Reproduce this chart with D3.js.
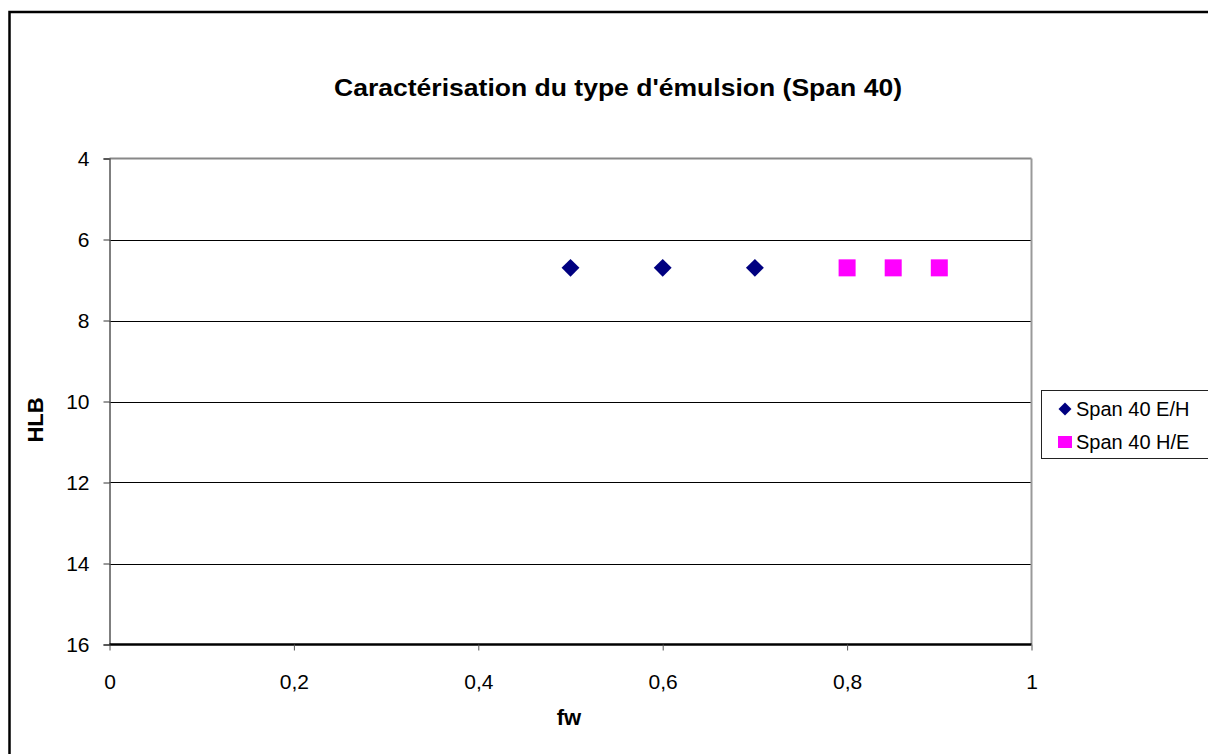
<!DOCTYPE html>
<html><head><meta charset="utf-8">
<script src="https://cdn.jsdelivr.net/npm/d3@7"></script>
<style>body{margin:0;background:#fff}svg{display:block;font-family:"Liberation Sans",Arial,sans-serif}</style>
</head><body><svg id="c" width="1208" height="754"></svg>
<script>
const title = "Caractérisation du type d'émulsion (Span 40)";
const xLabel = "fw";
const yLabel = "HLB";
const seriesNames = ["Span 40 E/H", "Span 40 H/E"];
const ehX = [0.5, 0.6, 0.7];
const ehY = [6.7, 6.7, 6.7];
const heX = [0.8, 0.85, 0.9];
const heY = [6.7, 6.7, 6.7];
const xTicks = [0, 0.2, 0.4, 0.6, 0.8, 1];
const yTicks = [4, 6, 8, 10, 12, 14, 16];

const svg = d3.select("#c");
const FF = "Liberation Sans, Arial, sans-serif";
const L = 109.5, R = 1031.5, T = 158.5, B = 644.5;
const x = d3.scaleLinear().domain([0, 1]).range([L, R]);
const y = d3.scaleLinear().domain([4, 16]).range([T, B]);
const fmt = d => String(d).replace(".", ",");

// outer frame
svg.append("rect").attr("x", 9.5).attr("y", 12).attr("width", 1230).attr("height", 780)
  .attr("fill", "none").attr("stroke", "#000").attr("stroke-width", 2.5);

// title
svg.append("text").attr("x", 618).attr("y", 96).attr("text-anchor", "middle")
  .attr("font-size", 24).attr("font-weight", "bold")
  .attr("textLength", 568).attr("lengthAdjust", "spacingAndGlyphs").text(title);

// gridlines
svg.append("g").selectAll("line").data(yTicks.filter(v => v > 4 && v < 16)).join("line")
  .attr("x1", L).attr("x2", R).attr("y1", d => Math.round(y(d)) + 0.5).attr("y2", d => Math.round(y(d)) + 0.5)
  .attr("stroke", "#000").attr("stroke-width", 1);

// plot border top/right gray
svg.append("line").attr("x1", L).attr("x2", R).attr("y1", T).attr("y2", T).attr("stroke", "#888").attr("stroke-width", 2);
svg.append("line").attr("x1", R).attr("x2", R).attr("y1", T).attr("y2", B).attr("stroke", "#999").attr("stroke-width", 2);

// axes
const yAxis = d3.axisLeft(y).tickValues(yTicks).tickSize(6).tickPadding(14).tickFormat(fmt);
const gy = svg.append("g").attr("transform", `translate(${L},0)`).call(yAxis);
gy.select(".domain").attr("stroke", "#555").attr("stroke-width", 1.5);
gy.selectAll(".tick line").attr("stroke", "#333");
gy.selectAll("text").attr("font-size", 21).attr("fill", "#000").attr("font-family", FF);

const xAxis = d3.axisBottom(x).tickValues(xTicks).tickSize(6).tickFormat(fmt);
const gx = svg.append("g").attr("transform", `translate(0,${B})`).call(xAxis);
gx.select(".domain").attr("stroke", "#000").attr("stroke-width", 2.5).attr("d", `M${L},0H${R}`);
gx.selectAll(".tick line").attr("stroke", "#555");
gx.selectAll("text").attr("font-size", 21).attr("fill", "#000").attr("font-family", FF)
  .attr("y", 44).attr("dy", 0);

// axis labels
svg.append("text").attr("x", 569).attr("y", 725).attr("text-anchor", "middle")
  .attr("font-size", 22).attr("font-weight", "bold").text(xLabel);
svg.append("text").attr("transform", "translate(43,420) rotate(-90)").attr("text-anchor", "middle")
  .attr("font-size", 22).attr("font-weight", "bold").text(yLabel);

// points
const diamond = d3.symbol().type(d3.symbolSquare).size(160);
svg.append("g").selectAll("path").data(ehX.map((v, i) => [v, ehY[i]])).join("path")
  .attr("d", diamond).attr("transform", d => `translate(${x(d[0])},${y(d[1])}) rotate(45)`)
  .attr("fill", "#000080");
svg.append("g").selectAll("rect").data(heX.map((v, i) => [v, heY[i]])).join("rect")
  .attr("x", d => x(d[0]) - 8.5).attr("y", d => y(d[1]) - 8.5).attr("width", 17).attr("height", 17)
  .attr("fill", "#FF00FF");

// legend
const lg = svg.append("g");
lg.append("rect").attr("x", 1041.5).attr("y", 390.5).attr("width", 170).attr("height", 68)
  .attr("fill", "#fff").attr("stroke", "#222").attr("stroke-width", 1);
lg.append("path").attr("d", d3.symbol().type(d3.symbolSquare).size(84)())
  .attr("transform", "translate(1065,409) rotate(45)").attr("fill", "#000080");
lg.append("rect").attr("x", 1058).attr("y", 436).attr("width", 14).attr("height", 12).attr("fill", "#FF00FF");
lg.selectAll("text").data(seriesNames).join("text")
  .attr("x", 1076).attr("y", (d, i) => 416 + i * 33).attr("font-size", 20).text(d => d);
</script></body></html>
